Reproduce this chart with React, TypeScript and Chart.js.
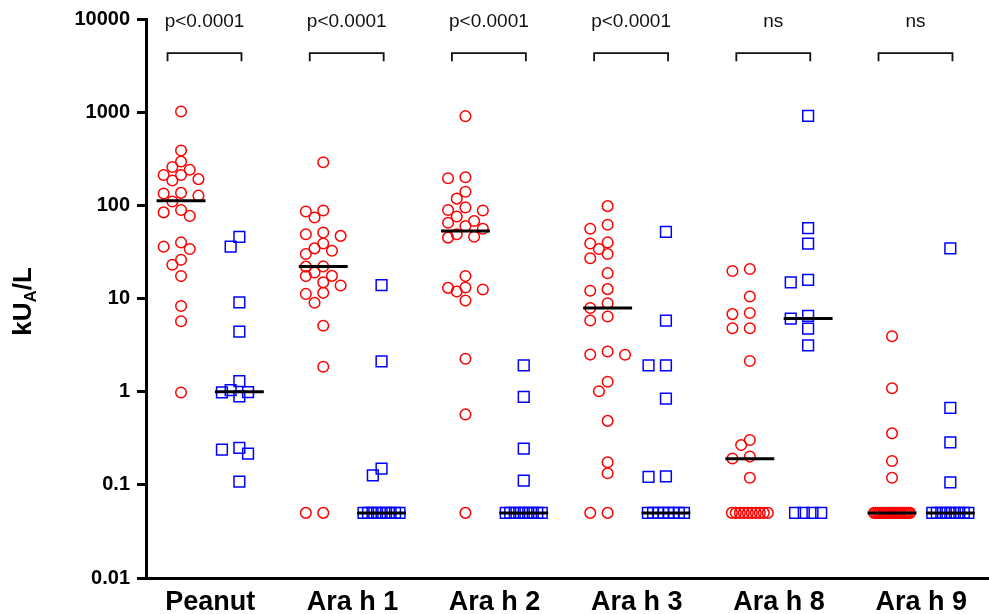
import React, { useEffect, useRef } from 'react';
import { Chart, registerables } from 'chart.js';

Chart.register(...registerables);

// ---------- data ----------
const categories = ['Peanut', 'Ara h 1', 'Ara h 2', 'Ara h 3', 'Ara h 8', 'Ara h 9'];
const pLabels = ['p<0.0001', 'p<0.0001', 'p<0.0001', 'p<0.0001', 'ns', 'ns'];
const yTickValues = [0.01, 0.1, 1, 10, 100, 1000, 10000];
const yTickLabels = ['0.01', '0.1', '1', '10', '100', '1000', '10000'];

const peanutRed = [1018, 387, 295, 258, 241, 212, 212, 191, 185, 136, 134, 127, 110, 89, 84, 77, 40, 36, 34, 26, 23, 17.4, 8.3, 5.7, 0.98];
const peanutBlue = [46, 36, 9.1, 4.4, 1.3, 1.04, 0.99, 0.98, 0.89, 0.249, 0.238, 0.216, 0.108];

const araH1Red = [290, 88, 86, 74, 51, 49, 47, 39, 34.5, 32.6, 30, 22, 22.1, 19, 17.5, 17.4, 14.9, 13.8, 11.5, 11.2, 9.0, 5.1, 1.85, 0.05, 0.05];
const araH1Blue = [13.9, 2.11, 0.149, 0.126, 0.05, 0.05, 0.05, 0.05, 0.05, 0.05, 0.05, 0.05, 0.05];

const araH2Red = [906, 200, 195, 140, 118, 95, 89, 88, 76, 68, 65, 60, 56, 49, 46, 45, 17.4, 13.1, 13.0, 12.5, 11.9, 9.5, 2.26, 0.57, 0.05];
const araH2Blue = [1.92, 0.88, 0.245, 0.111, 0.05, 0.05, 0.05, 0.05, 0.05, 0.05, 0.05, 0.05, 0.05];

const araH3Red = [98, 62, 56, 40, 39, 34, 30, 27, 18.7, 12.6, 12.1, 8.9, 7.9, 6.4, 5.8, 2.7, 2.5, 2.49, 1.28, 1.01, 0.486, 0.175, 0.133, 0.05, 0.05];
const araH3Blue = [52, 5.8, 1.92, 1.91, 0.84, 0.123, 0.122, 0.05, 0.05, 0.05, 0.05, 0.05, 0.05, 0.05, 0.05];

const araH8Red = [20.7, 19.7, 10.5, 7.0, 6.8, 4.8, 4.79, 2.13, 0.303, 0.267, 0.201, 0.192, 0.119, 0.05, 0.05, 0.05, 0.05, 0.05, 0.05, 0.05, 0.05, 0.05, 0.05];
const araH8Blue = [914, 57, 38.8, 15.8, 14.9, 6.5, 6.07, 4.76, 3.14, 0.05, 0.05, 0.05, 0.05];

const araH9Red = [3.93, 1.09, 0.357, 0.18, 0.119, 0.05, 0.05, 0.05, 0.05, 0.05, 0.05, 0.05, 0.05, 0.05, 0.05, 0.05, 0.05, 0.05, 0.05, 0.05, 0.05, 0.05, 0.05, 0.05, 0.05];
const araH9Blue = [34.5, 0.668, 0.285, 0.106, 0.05, 0.05, 0.05, 0.05, 0.05, 0.05, 0.05, 0.05, 0.05];

const redGroups = [peanutRed, araH1Red, araH2Red, araH3Red, araH8Red, araH9Red];
const blueGroups = [peanutBlue, araH1Blue, araH2Blue, araH3Blue, araH8Blue, araH9Blue];
const redMedians = [112, 22, 53, 7.9, 0.19, 0.05];
const blueMedians = [1.0, 0.05, 0.05, 0.05, 6.1, 0.05];

// ---------- layout constants ----------
const FONT = '"Liberation Sans", Arial, Helvetica, sans-serif';
const GROUP_OFFSET = 0.205;
const MEDIAN_HALF = 0.172;
const PX_PER_UNIT = 142.2;
const PX_PER_DECADE = 93.2;
const HALF_STEP_PX = 4.35;
const MIN_DIST_PX = 10;
const ROW_MAX_WIDTH_PX = 36;
const BRACKET_VALUE = 4300;
const BRACKET_LEFT = -0.3;
const BRACKET_RIGHT = 0.22;

// simple deterministic beeswarm: returns pixel offsets
function swarm(values: number[]): number[] {
  const offsets: number[] = values.map(() => 0);
  const byValue = new Map<number, number[]>();
  values.forEach((v, i) => {
    const a = byValue.get(v) || [];
    a.push(i);
    byValue.set(v, a);
  });
  const placed: { dx: number; ly: number }[] = [];
  const rest: number[] = [];
  byValue.forEach((idxs, v) => {
    if (idxs.length >= 3) {
      const n = idxs.length;
      const w = Math.min((n - 1) * 2 * HALF_STEP_PX, ROW_MAX_WIDTH_PX);
      idxs.forEach((idx, k) => {
        const dx = -w / 2 + (w * k) / (n - 1);
        offsets[idx] = dx;
        placed.push({ dx, ly: Math.log10(v) * PX_PER_DECADE });
      });
    } else {
      rest.push(...idxs);
    }
  });
  rest.sort((a, b) => values[b] - values[a]);
  const cands = [0, -2, 2, -4, 4, -1, 1, -3, 3];
  for (const idx of rest) {
    const ly = Math.log10(values[idx]) * PX_PER_DECADE;
    let best = 0;
    let bestD = -1;
    for (const k of cands) {
      const dx = k * HALF_STEP_PX;
      let minD = Infinity;
      for (const p of placed) {
        const d = Math.hypot(dx - p.dx, ly - p.ly);
        if (d < minD) minD = d;
      }
      if (minD >= MIN_DIST_PX) {
        best = dx;
        break;
      }
      if (minD > bestD) {
        bestD = minD;
        best = dx;
      }
    }
    offsets[idx] = best;
    placed.push({ dx: best, ly });
  }
  return offsets;
}

function buildPoints(groups: number[][], shift: number) {
  const pts: { x: number; y: number }[] = [];
  groups.forEach((vals, i) => {
    const offs = swarm(vals);
    vals.forEach((v, k) => pts.push({ x: i + shift + offs[k] / PX_PER_UNIT, y: v }));
  });
  return pts;
}

function buildMedians() {
  const pts: { x: number; y: number | null }[] = [];
  categories.forEach((_, i) => {
    const rx = i - GROUP_OFFSET;
    const bx = i + GROUP_OFFSET;
    pts.push({ x: rx - MEDIAN_HALF, y: redMedians[i] }, { x: rx + MEDIAN_HALF, y: redMedians[i] }, { x: rx, y: null });
    pts.push({ x: bx - MEDIAN_HALF, y: blueMedians[i] }, { x: bx + MEDIAN_HALF, y: blueMedians[i] }, { x: bx, y: null });
  });
  return pts;
}

const annotationPlugin = {
  id: 'annotations',
  afterDraw(chart: any) {
    const { ctx } = chart;
    const x = chart.scales.x;
    const y = chart.scales.y;
    ctx.save();
    const top = y.getPixelForValue(BRACKET_VALUE);
    categories.forEach((_, i) => {
      const x1 = x.getPixelForValue(i + BRACKET_LEFT);
      const x2 = x.getPixelForValue(i + BRACKET_RIGHT);
      ctx.strokeStyle = '#111';
      ctx.lineWidth = 1.8;
      ctx.beginPath();
      ctx.moveTo(x1, top + 8);
      ctx.lineTo(x1, top);
      ctx.lineTo(x2, top);
      ctx.lineTo(x2, top + 8);
      ctx.stroke();
      ctx.font = `19px ${FONT}`;
      ctx.textAlign = 'center';
      ctx.textBaseline = 'alphabetic';
      ctx.fillStyle = '#111';
      ctx.fillText(pLabels[i], (x1 + x2) / 2, top - 26);
    });

    // y-axis title: kU(A)/L with subscript A
    const midY = (y.top + y.bottom) / 2 + 3;
    ctx.translate(31, midY);
    ctx.rotate(-Math.PI / 2);
    ctx.fillStyle = '#000';
    ctx.textAlign = 'left';
    ctx.textBaseline = 'alphabetic';
    const big = `bold 26px ${FONT}`;
    const small = `bold 17px ${FONT}`;
    ctx.font = big;
    const w1 = ctx.measureText('kU').width;
    const w3 = ctx.measureText('/L').width;
    ctx.font = small;
    const w2 = ctx.measureText('A').width;
    const total = w1 + w2 + w3;
    let cx = -total / 2;
    ctx.font = big;
    ctx.fillText('kU', cx, 0);
    cx += w1;
    ctx.font = small;
    ctx.fillText('A', cx, 5);
    cx += w2;
    ctx.font = big;
    ctx.fillText('/L', cx, 0);
    ctx.restore();
  },
};

export default function App() {
  const ref = useRef<HTMLCanvasElement | null>(null);

  useEffect(() => {
    if (!ref.current) return;
    const chart = new Chart(ref.current, {
      type: 'scatter',
      data: {
        datasets: [
          {
            label: 'median',
            data: buildMedians() as any,
            showLine: true,
            spanGaps: false,
            borderColor: '#000',
            borderWidth: 3,
            pointRadius: 0,
            pointHoverRadius: 0,
          },
          {
            label: 'group 1',
            data: buildPoints(redGroups, -GROUP_OFFSET),
            pointStyle: 'circle',
            pointRadius: 5.3,
            pointBorderWidth: 1.5,
            borderColor: '#ff0000',
            backgroundColor: 'rgba(0,0,0,0)',
            pointBackgroundColor: 'rgba(0,0,0,0)',
          },
          {
            label: 'group 2',
            data: buildPoints(blueGroups, GROUP_OFFSET),
            pointStyle: 'rect',
            pointRadius: 7.6,
            pointBorderWidth: 1.5,
            borderColor: '#0000ff',
            backgroundColor: 'rgba(0,0,0,0)',
            pointBackgroundColor: 'rgba(0,0,0,0)',
          },
        ],
      },
      options: {
        animation: false,
        responsive: false,
        devicePixelRatio: 1,
        layout: { autoPadding: false, padding: { top: 19, right: 0, bottom: 0, left: 0 } },
        plugins: {
          legend: { display: false },
          tooltip: { enabled: false },
        },
        scales: {
          x: {
            type: 'linear',
            min: -0.4515,
            max: 5.477,
            afterBuildTicks: (scale: any) => {
              scale.ticks = categories.map((_, i) => ({ value: i }));
            },
            afterFit: (scale: any) => {
              scale.height = 36;
              scale.paddingLeft = 0;
              scale.paddingRight = 0;
            },
            grid: { display: false, drawTicks: false },
            border: { display: true, color: '#000', width: 3 },
            ticks: {
              autoSkip: false,
              maxRotation: 0,
              padding: 8,
              color: '#000',
              font: { family: FONT, size: 27, weight: 'bold' },
              callback: (v: any) => categories[Math.round(Number(v))] ?? '',
            },
          },
          y: {
            type: 'logarithmic',
            min: 0.01,
            max: 10000,
            afterBuildTicks: (scale: any) => {
              scale.ticks = yTickValues.map((v) => ({ value: v }));
            },
            afterFit: (scale: any) => {
              scale.width = 146;
            },
            grid: {
              display: true,
              drawOnChartArea: false,
              drawTicks: true,
              tickLength: 9,
              tickWidth: 3,
              tickColor: '#000',
            },
            border: { display: true, color: '#000', width: 3 },
            ticks: {
              padding: 7,
              color: '#000',
              font: { family: FONT, size: 20, weight: 'bold' },
              callback: (_v: any, index: number) => yTickLabels[index],
            },
          },
        },
      },
      plugins: [annotationPlugin],
    } as any);
    return () => chart.destroy();
  }, []);

  return (
    <div style={{ position: 'absolute', left: 0, top: 0, width: 989, height: 614, background: '#fff' }}>
      <canvas ref={ref} width={989} height={614} style={{ display: 'block', width: 989, height: 614 }} />
    </div>
  );
}
